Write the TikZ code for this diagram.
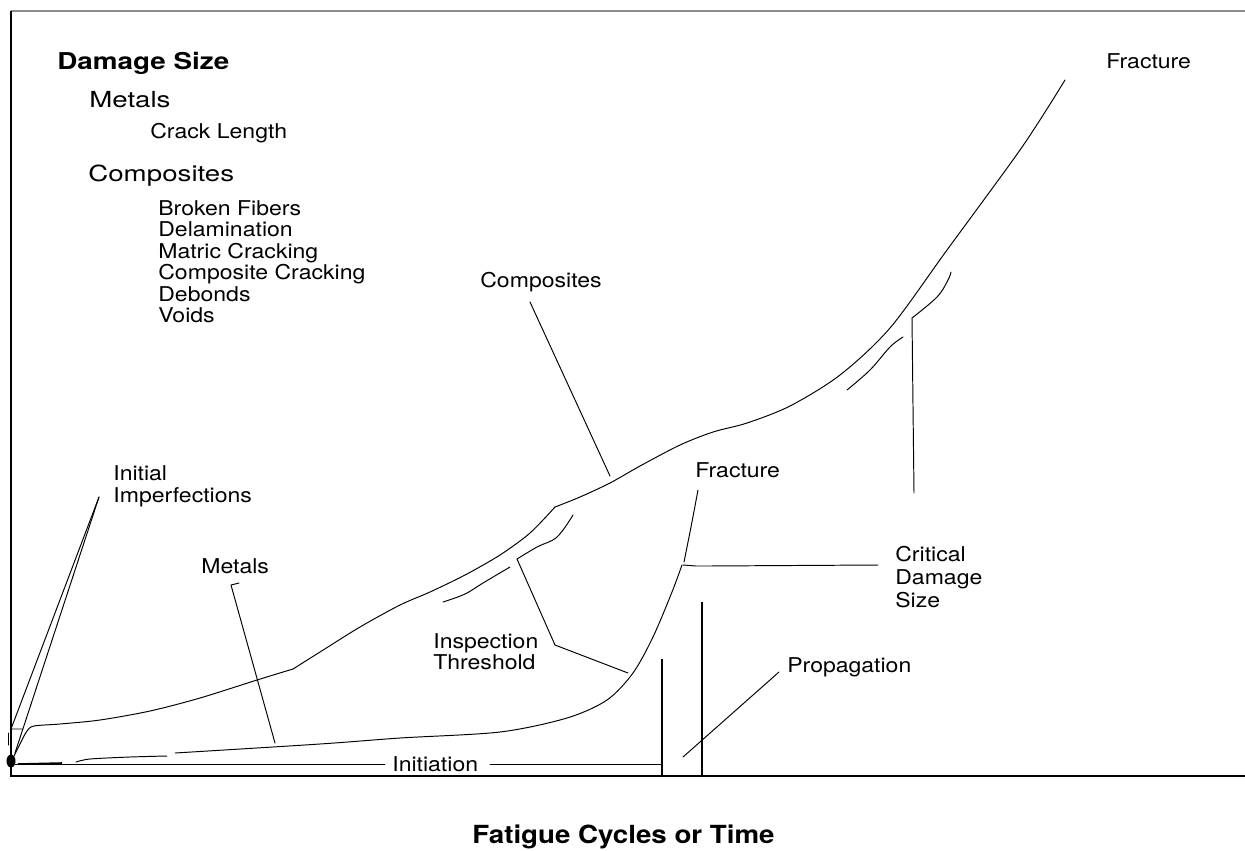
\documentclass[tikz,border=0pt]{standalone}
\usepackage{fontspec}
\setmainfont{TeX Gyre Heros}
\def\hs#1#2{\scalebox{#1}[1]{#2}}
\tikzset{
	lbl/.style={anchor=base west, inner sep=0pt, font=\fontsize{11.6}{13}\selectfont},
	big/.style={anchor=base west, inner sep=0pt, font=\fontsize{12.6}{14}\selectfont},
	ttl/.style={anchor=base west, inner sep=0pt, font=\bfseries\fontsize{13.2}{15}\selectfont},
	axislbl/.style={anchor=base west, inner sep=0pt, font=\bfseries\fontsize{14.2}{16}\selectfont},
	crv/.style={line width=0.55pt, line join=round, line cap=round},
}

\begin{document}
\begin{tikzpicture}[x=0.02cm, y=-0.02cm]
			%%%%% START %%%%%
			\useasboundingbox (0,0) rectangle (1245,850);
			
			% frame
			\draw[line width=0.8pt, color=black!45] (11,11) -- (1245,11);
			\draw[line width=0.8pt] (11,11) -- (11,776) -- (1245,776);
			
			% legend
			\node[ttl] (title) at (57,69) {\hs{1.2}{Damage Size}};
			\node[big] (legMet) at (89,107) {\hs{1.25}{Metals}};
			\node[lbl] (legCrack) at (150,138) {\hs{1.13}{Crack Length}};
			\node[big] (legCmp) at (88,181) {\hs{1.25}{Composites}};
			\node[lbl] (legA) at (158,215) {\hs{1.13}{Broken Fibers}};
			\node[lbl] (legB) at (158,236) {\hs{1.13}{Delamination}};
			\node[lbl] (legC) at (158,258) {\hs{1.13}{Matric Cracking}};
			\node[lbl] (legD) at (158,279) {\hs{1.13}{Composite Cracking}};
			\node[lbl] (legE) at (158,301) {\hs{1.13}{Debonds}};
			\node[lbl] (legF) at (158,322) {\hs{1.13}{Voids}};
			
			% labels
			\node[lbl] (fracTop) at (1106,68) {\hs{1.13}{Fracture}};
			\node[lbl] (cmp) at (480,287) {\hs{1.13}{Composites}};
			\node[lbl] (imp1) at (113,480) {\hs{1.13}{Initial}};
			\node[lbl] (imp2) at (113,502) {\hs{1.13}{Imperfections}};
			\node[lbl] (met) at (201,573) {\hs{1.13}{Metals}};
			\node[lbl] (insp1) at (433,648) {\hs{1.13}{Inspection}};
			\node[lbl] (insp2) at (433,669) {\hs{1.13}{Threshold}};
			\node[lbl] (fracMid) at (695,477) {\hs{1.13}{Fracture}};
			\node[lbl] (crit1) at (895,561) {\hs{1.13}{Critical}};
			\node[lbl] (crit2) at (895,584) {\hs{1.13}{Damage}};
			\node[lbl] (crit3) at (895,607) {\hs{1.13}{Size}};
			\node[lbl] (prop) at (787,672) {\hs{1.13}{Propagation}};
			\node[lbl] (init) at (392,771) {\hs{1.13}{Initiation}};
			\node[axislbl] (axis) at (472,843) {\hs{1.11}{Fatigue Cycles or Time}};
			
			% leader ends
			\coordinate (impTop) at (99,497);
			\coordinate (impA) at (11,729);
			\coordinate (impB) at (15,753);
			\coordinate (metTop) at (231,585);
			\coordinate (metTip) at (275,743);
			\coordinate (cmpFoot) at (530,302);
			\coordinate (cmpTip) at (610,476);
			\coordinate (propTip) at (683,757);
			\coordinate (propFoot) at (779,672);
			\coordinate (inspKnee) at (517,559);
			\coordinate (inspLow) at (555,645);
			\coordinate (inspTip) at (628,673);
			\coordinate (critTop) at (912,318);
			\coordinate (critFoot) at (914,493);
			\coordinate (critL) at (683,565);
			\coordinate (critR) at (878,565);
			\coordinate (initL) at (385,764);
			\coordinate (initR) at (490,764);
			
			% composites curve
			\draw[crv] plot[smooth, tension=0.5] coordinates {(14,756) (21,742) (27,731) (34,726) (60,724) (100,720) (150,711) (200,698) (257,680) (293,669)};
			\draw[crv] plot[smooth, tension=0.5] coordinates {(293,669) (320,652) (360,627) (400,605) (430,592) (465,575) (500,555) (530,533) (555,507)};
			\draw[crv] plot[smooth, tension=0.5] coordinates {(555,507) (580,497) (610,483) (640,466) (680,445) (713,432) (747,423) (790,406) (840,375) (890,328) (947,250) (1020,150) (1057,93)};
			\draw[crv] (1057,93) -- (1065,80);
			
			% metals curve
			\draw[line width=0.9pt] (18,764) -- (62,763);
			\draw[crv] plot[smooth, tension=0.5] coordinates {(76,762) (90,759) (130,757) (167,756)};
			\draw[crv] plot[smooth, tension=0.5] coordinates {(175,753) (320,744) (400,738) (500,732) (567,718) (607,700) (633,673) (653,637) (672,592) (682,565)};
			\draw[crv] plot[smooth, tension=0.5] coordinates {(684,562) (691,527) (698,490)};
			
			% short arcs
			\draw[crv] plot[smooth, tension=0.6] coordinates {(443,602) (465,594) (483,583) (510,567)};
			\draw[crv] plot[smooth, tension=0.6] coordinates {(847,390) (870,370) (890,347) (903,337)};
			
			% leaders
			\draw[crv] (impTop) -- (impA) -- (23,729);
			\draw[crv] (impTop) -- (impB);
			\draw[crv] (8,733) -- (8,745);
			\draw[crv] (239,583) -- (metTop) -- (metTip);
			\draw[crv] (cmpFoot) -- (cmpTip);
			\draw[crv] plot[smooth, tension=0.6] coordinates {(573,515) (557,537) (537,547) (517,559)};
			\draw[crv] (inspKnee) -- (inspLow) -- (inspTip);
			\draw[crv] (critFoot) -- (critTop);
			\draw[crv] plot[smooth, tension=0.6] coordinates {(critTop) (937,297) (948,280) (951,272)};
			\draw[crv] (critL) -- (696,566) -- (707,566) -- (critR);
			\draw[crv] (propTip) -- (propFoot);
			
			% initiation and propagation marks
			\draw[crv] (15,764) -- (initL);
			\draw[crv] (initR) -- (662,764);
			\draw[line width=0.6pt] (662,659) -- (662,776);
			\draw[line width=0.6pt] (702,602) -- (702,776);
			
			% origin dot
			\fill (11,761) ellipse [x radius=4.5, y radius=6.5];
			
			%%%%% END %%%%%
\end{tikzpicture}
\end{document}
